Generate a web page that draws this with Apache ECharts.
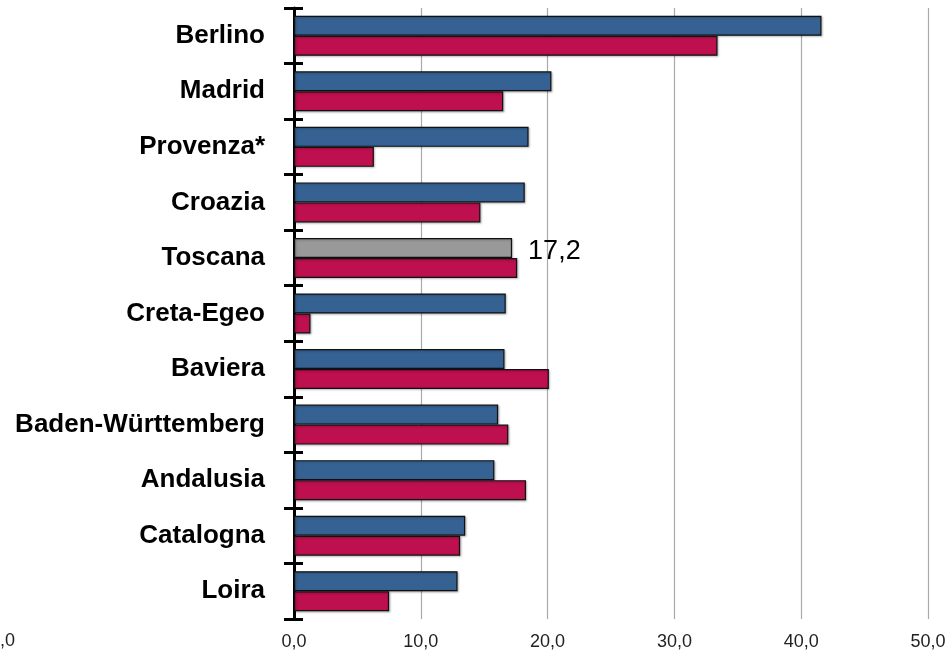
<!DOCTYPE html>
<html>
<head>
<meta charset="utf-8">
<script src="https://cdn.jsdelivr.net/npm/echarts@6/dist/echarts.min.js"></script>
<style>
  html, body { margin: 0; padding: 0; background: #fff; }
  #chart { width: 948px; height: 656px; }
</style>
</head>
<body>
<div id="chart"></div>
<script>
var categories = ['Berlino', 'Madrid', 'Provenza*', 'Croazia', 'Toscana', 'Creta-Egeo',
	'Baviera', 'Baden-Württemberg', 'Andalusia', 'Catalogna', 'Loira'];
var serieBlu = [41.6, 20.3, 18.5, 18.2, 17.2, 16.7, 16.6, 16.1, 15.8, 13.5, 12.9];
var serieRossa = [33.4, 16.5, 6.3, 14.7, 17.6, 1.3, 20.1, 16.9, 18.3, 13.1, 7.5];
var evidenza = 'Toscana';
var xTicks = [0, 10, 20, 30, 40, 50];

var font = '"Liberation Sans Narrow", "Arial Narrow", "Liberation Sans", sans-serif';
var myChart = echarts.init(document.getElementById('chart'));

var bluData = serieBlu.map(function(v, i) {
	if (categories[i] === evidenza) {
		return {
			value: v,
			itemStyle: { color: '#999999' },
			label: {
				show: true,
				position: 'right',
				distance: 16,
				offset: [0, 4],
				fontFamily: font,
				fontSize: 27,
				color: '#000',
				formatter: function(p) { return p.value.toFixed(1).replace('.', ','); }
			}
		};
	}
	return v;
});

var shadow = {
	borderColor: '#111',
	borderWidth: 1.2,
	shadowColor: 'rgba(0,0,0,0.25)',
	shadowBlur: 2,
	shadowOffsetX: 1,
	shadowOffsetY: 1
};

option = {
	backgroundColor: '#fff',
	animation: false,
	grid: {
		left: 294,
		right: 20,
		top: 8,
		bottom: 37,
		containLabel: false,
		outerBoundsMode: 'none'
	},
	xAxis: {
		type: 'value',
		min: xTicks[0],
		max: xTicks[xTicks.length - 1],
		interval: 10,
		axisLine: { show: false },
		axisTick: { show: false },
		splitLine: { show: true, lineStyle: { color: '#aaaaaa', width: 1.2 } },
		axisLabel: {
			fontFamily: font,
			fontSize: 18,
			color: '#222',
			margin: 14,
			formatter: function(v) { return v.toFixed(1).replace('.', ','); }
		}
	},
	yAxis: [{
			type: 'category',
			inverse: true,
			data: categories,
			axisLine: { show: true, lineStyle: { color: '#000', width: 3 } },
			axisTick: { show: true, length: 10, lineStyle: { color: '#000', width: 3 } },
			axisLabel: {
				fontFamily: font,
				fontSize: 26,
				fontWeight: 'bold',
				color: '#000',
				margin: 29
			}
		},
		{
			type: 'category',
			inverse: true,
			position: 'left',
			data: categories,
			axisLine: { show: false },
			axisTick: { show: true, inside: true, length: 9, lineStyle: { color: '#000', width: 3 } },
			axisLabel: { show: false }
		}
	],
	series: [
		{
			name: 'Serie 1',
			type: 'bar',
			barWidth: 20,
			barGap: '0%',
			itemStyle: Object.assign({ color: '#356293' }, shadow),
			data: bluData,
			z: 3
		},
		{
			name: 'Serie 2',
			type: 'bar',
			barWidth: 20,
			barGap: '0%',
			itemStyle: Object.assign({ color: '#BE0F4E' }, shadow),
			data: serieRossa,
			z: 3
		}
	],
	graphic: [{
		type: 'text',
		x: 15,
		y: 632,
		style: {
			text: '0,0',
			textAlign: 'right',
			font: '18px ' + font,
			fill: '#222'
		}
	}]
};

myChart.setOption(option);
</script>
</body>
</html>
